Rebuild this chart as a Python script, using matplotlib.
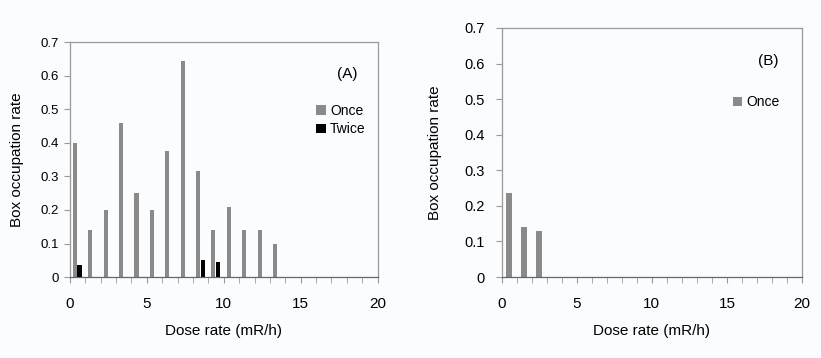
import matplotlib.pyplot as plt
from matplotlib.ticker import MultipleLocator

plt.rcParams['font.family'] = ['Liberation Sans', 'DejaVu Sans']

# panel A: dose-rate bins 0-1, 1-2, ... 13-14
bins_a = list(range(14))
once_a = [0.40, 0.14, 0.20, 0.46, 0.25, 0.20, 0.375, 0.645, 0.315, 0.14, 0.21, 0.14, 0.14, 0.10]
twice_bins = [0, 8, 9]
twice_a = [0.035, 0.05, 0.045]

# panel B
bins_b = [0, 1, 2]
once_b = [0.235, 0.14, 0.13]

gray = "#8a8a8a"
spine = "#9a9a9a"

fig = plt.figure(figsize=(8.21, 3.58), dpi=100)
fig.patch.set_facecolor("#fbfcfd")

ax1 = fig.add_axes([0.085, 0.226, 0.375, 0.656])
ax2 = fig.add_axes([0.611, 0.226, 0.366, 0.696])

def style(ax, ysize, ypad, labpad):
    ax.set_facecolor("#fbfcfd")
    ax.set_xlim(0, 20)
    ax.set_ylim(0, 0.7)
    ax.xaxis.set_major_locator(MultipleLocator(5))
    ax.xaxis.set_minor_locator(MultipleLocator(1))
    ax.yaxis.set_major_locator(MultipleLocator(0.1))
    ax.set_yticklabels(["0" if t == 0 else f"{t:.1f}" for t in ax.get_yticks()])
    for s in ax.spines.values():
        s.set_color(spine)
        s.set_linewidth(0.9)
    ax.spines['bottom'].set_color("#666666")
    ax.tick_params(axis='x', which='both', direction='out', length=4, color=spine, labelsize=11, pad=10)
    ax.tick_params(axis='y', direction='out', length=4, color=spine, labelsize=ysize, pad=ypad)
    ax.set_xlabel("Dose rate (mR/h)", fontsize=11, labelpad=10)
    ax.set_ylabel("Box occupation rate", fontsize=11, labelpad=labpad)

ax1.bar([b + 0.33 for b in bins_a], once_a, width=0.27, color=gray, label="Once")
ax1.bar([b + 0.63 for b in twice_bins], twice_a, width=0.27, color="black", label="Twice")
style(ax1, 9.5, 3.5, 12)
ax1.text(0.9, 0.863, "(A)", transform=ax1.transAxes, fontsize=11, ha='center', va='center')
ax1.legend(loc='upper left', bbox_to_anchor=(0.76, 0.79), frameon=False, fontsize=10,
           handlelength=0.7, handleheight=0.7, handletextpad=0.3, labelspacing=0.3)

ax2.bar([b + 0.5 for b in bins_b], once_b, width=0.36, color=gray, label="Once")
style(ax2, 10.5, 8, 16)
ax2.text(0.887, 0.868, "(B)", transform=ax2.transAxes, fontsize=11, ha='center', va='center')
ax2.legend(loc='upper left', bbox_to_anchor=(0.727, 0.78), frameon=False, fontsize=10,
           handlelength=0.7, handleheight=0.7, handletextpad=0.3)

fig.savefig("out.png", dpi=100, facecolor=fig.get_facecolor())
